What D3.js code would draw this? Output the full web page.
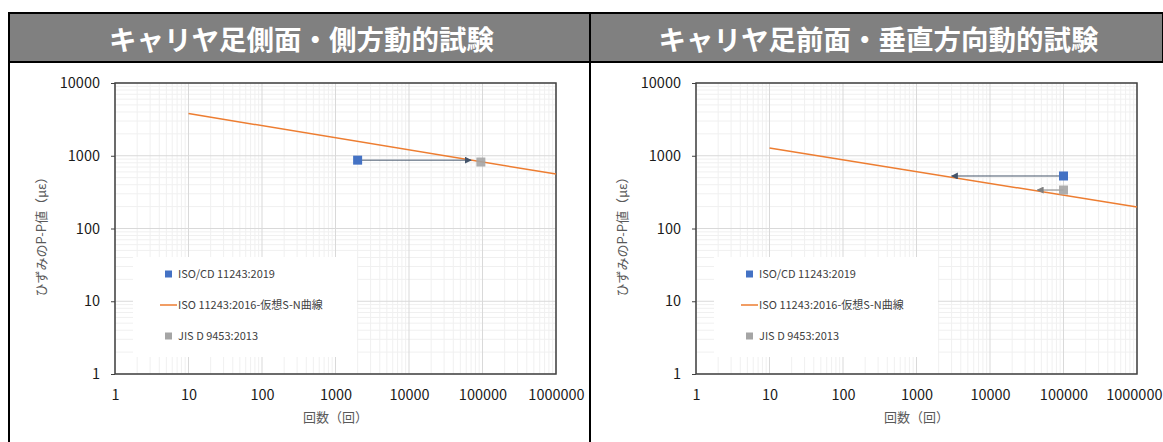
<!DOCTYPE html>
<html>
<head>
<meta charset="utf-8">
<script src="https://cdn.jsdelivr.net/npm/d3@7"></script>
<style>
  body { margin: 0; background: #fff; }
  text { font-family: "Noto Sans CJK JP", "Noto Sans", sans-serif; }
</style>
</head>
<body>
<div id="chart"></div>
<script>
// chart data
const titles = ['キャリヤ足側面・側方動的試験', 'キャリヤ足前面・垂直方向動的試験']
const xTicks = [1, 10, 100, 1000, 10000, 100000, 1000000]
const yTicks = [1, 10, 100, 1000, 10000]
const legendNames = ['ISO/CD 11243:2019', 'ISO 11243:2016-仮想S-N曲線', 'JIS D 9453:2013']

// left: side / lateral
const snCycles1 = [10, 1000000]
const snStrain1 = [3800, 560]
const isoPoints1 = [{n: 2000, v: 870}]
const jisPoints1 = [{n: 95000, v: 820}]
const arrows1 = [{from: 2000, to: 70000, v: 870, color: '#44546a'}]

// right: front / vertical
const snCycles2 = [10, 1000000]
const snStrain2 = [1280, 197]
const isoPoints2 = [{n: 100000, v: 527}]
const jisPoints2 = [{n: 100000, v: 338}]
const arrows2 = [
  {from: 100000, to: 3000, v: 527, color: '#44546a'},
  {from: 100000, to: 44000, v: 338, color: '#7f7f7f'}
]

const panels = [
  {x0: 9, x1: 590, title: titles[0], sn: snCycles1.map((n, i) => ({n, v: snStrain1[i]})),
   iso: isoPoints1, jis: jisPoints1, arrows: arrows1, plotL: 115, legX: 133},
  {x0: 590, x1: 1163, title: titles[1], sn: snCycles2.map((n, i) => ({n, v: snStrain2[i]})),
   iso: isoPoints2, jis: jisPoints2, arrows: arrows2, plotL: 696, legX: 714}
]

const W = 1163, H = 442
const svg = d3.select('#chart').append('svg')
  .attr('width', W).attr('height', H)

const colors = {iso: '#4472c4', sn: '#ed7d31', jis: '#a5a5a5'}

const defs = svg.append('defs')
;['#44546a', '#7f7f7f'].forEach((c, i) => {
  defs.append('marker')
    .attr('id', 'arr' + i)
    .attr('viewBox', '0 0 10 10')
    .attr('refX', 9).attr('refY', 5)
    .attr('markerWidth', 7).attr('markerHeight', 7)
    .attr('markerUnits', 'userSpaceOnUse')
    .attr('orient', 'auto')
    .append('path').attr('d', 'M0,0L10,5L0,10z').attr('fill', c)
})

panels.forEach(p => {
  const g = svg.append('g')

  // title bar
  g.append('rect')
    .attr('x', p.x0).attr('y', 13)
    .attr('width', p.x1 - p.x0).attr('height', 49)
    .attr('fill', '#808080').attr('stroke', '#000').attr('stroke-width', 2)
  g.append('text')
    .attr('x', (p.x0 + p.x1) / 2 + 2).attr('y', 50)
    .attr('text-anchor', 'middle')
    .attr('fill', '#fff').attr('font-size', 27.5).attr('font-weight', 'bold')
    .text(p.title)
  g.append('line')
    .attr('x1', p.x0).attr('x2', p.x0).attr('y1', 13).attr('y2', H)
    .attr('stroke', '#000').attr('stroke-width', 2)

  const plotR = p.plotL + 441, plotT = 83, plotB = 374
  const x = d3.scaleLog().domain([1, 1000000]).range([p.plotL, plotR])
  const y = d3.scaleLog().domain([1, 10000]).range([plotB, plotT])

  // gridlines
  const minorX = [], minorY = []
  for (let d = 1; d < 1000000; d *= 10) for (let k = 2; k < 10; k++) minorX.push(d * k)
  for (let d = 1; d < 10000; d *= 10) for (let k = 2; k < 10; k++) minorY.push(d * k)
  g.append('g').selectAll('line').data(minorX).join('line')
    .attr('x1', d => x(d)).attr('x2', d => x(d)).attr('y1', plotT).attr('y2', plotB)
    .attr('stroke', '#f0f0f0')
  g.append('g').selectAll('line').data(minorY).join('line')
    .attr('y1', d => y(d)).attr('y2', d => y(d)).attr('x1', p.plotL).attr('x2', plotR)
    .attr('stroke', '#f0f0f0')
  g.append('g').selectAll('line').data(xTicks).join('line')
    .attr('x1', d => x(d)).attr('x2', d => x(d)).attr('y1', plotT).attr('y2', plotB)
    .attr('stroke', '#d9d9d9')
  g.append('g').selectAll('line').data(yTicks).join('line')
    .attr('y1', d => y(d)).attr('y2', d => y(d)).attr('x1', p.plotL).attr('x2', plotR)
    .attr('stroke', '#d9d9d9')

  // axes
  const xAxis = g.append('g').attr('transform', `translate(0,${plotB})`)
    .call(d3.axisBottom(x).tickValues(xTicks).tickFormat(d3.format('d')).tickSize(0).tickPadding(16))
  const yAxis = g.append('g').attr('transform', `translate(${p.plotL},0)`)
    .call(d3.axisLeft(y).tickValues(yTicks).tickFormat(d3.format('d')).tickSize(4).tickPadding(11))
  ;[xAxis, yAxis].forEach(a => {
    a.select('.domain').remove()
    a.selectAll('text').attr('font-size', 14.5).attr('fill', '#1a1a1a')
      .attr('font-family', '"Noto Sans", sans-serif')
    a.selectAll('line').attr('stroke', '#404040')
  })
  // keep the last x label inside the window
  xAxis.selectAll('.tick text').filter(d => x(d) + 28 > W)
    .attr('text-anchor', 'end').attr('x', d => W - 1 - x(d))

  g.append('rect')
    .attr('x', p.plotL).attr('y', plotT)
    .attr('width', plotR - p.plotL).attr('height', plotB - plotT)
    .attr('fill', 'none').attr('stroke', '#404040').attr('stroke-width', 1.5)

  // axis titles
  g.append('text')
    .attr('transform', `translate(${p.plotL - 69},${(plotT + plotB) / 2 + 5}) rotate(-90)`)
    .attr('text-anchor', 'middle').attr('font-size', 13).attr('fill', '#595959')
    .text('ひずみのP-P値（με）')
  g.append('text')
    .attr('x', (p.plotL + plotR) / 2).attr('y', 422)
    .attr('text-anchor', 'middle').attr('font-size', 13).attr('fill', '#595959')
    .text('回数（回）')

  // S-N curve
  g.append('path').datum(p.sn)
    .attr('d', d3.line().x(d => x(d.n)).y(d => y(d.v)))
    .attr('fill', 'none').attr('stroke', colors.sn).attr('stroke-width', 1.5)

  // arrows
  g.append('g').selectAll('line').data(p.arrows).join('line')
    .attr('x1', d => x(d.from)).attr('x2', d => x(d.to))
    .attr('y1', d => y(d.v)).attr('y2', d => y(d.v))
    .attr('stroke', d => d.color).attr('stroke-width', 1)
    .attr('marker-end', d => d.color === '#44546a' ? 'url(#arr0)' : 'url(#arr1)')

  // points
  const sq = 9
  g.append('g').selectAll('rect').data(p.iso).join('rect')
    .attr('x', d => x(d.n) - sq / 2).attr('y', d => y(d.v) - sq / 2)
    .attr('width', sq).attr('height', sq).attr('fill', colors.iso)
  g.append('g').selectAll('rect').data(p.jis).join('rect')
    .attr('x', d => x(d.n) - sq / 2).attr('y', d => y(d.v) - sq / 2)
    .attr('width', sq).attr('height', sq).attr('fill', colors.jis).attr('opacity', 0.9)

  // legend
  const leg = g.append('g').attr('transform', `translate(${p.legX},257)`)
  leg.append('rect').attr('width', 224).attr('height', 100).attr('fill', '#fff')
  const keys = ['iso', 'sn', 'jis']
  legendNames.forEach((name, i) => {
    const ly = 17 + i * 31
    if (keys[i] === 'sn') {
      leg.append('line').attr('x1', 27).attr('x2', 44).attr('y1', ly).attr('y2', ly)
        .attr('stroke', colors.sn).attr('stroke-width', 1.5)
    } else {
      leg.append('rect').attr('x', 32).attr('y', ly - 3.5).attr('width', 7).attr('height', 7)
        .attr('fill', colors[keys[i]])
    }
    leg.append('text').attr('x', 45).attr('y', ly + 4)
      .attr('font-size', 11).attr('fill', '#404040').text(name)
  })
})
</script>
</body>
</html>
